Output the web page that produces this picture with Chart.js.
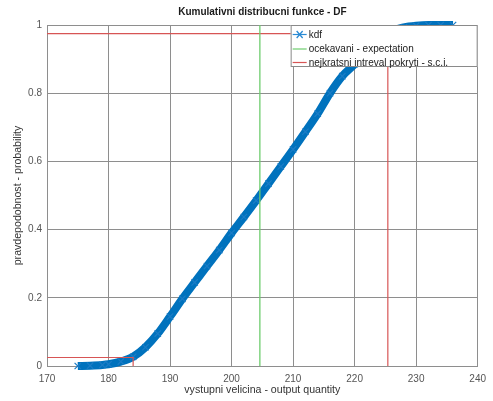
<!DOCTYPE html>
<html>
<head>
<meta charset="utf-8">
<script src="https://cdn.jsdelivr.net/npm/chart.js@4/dist/chart.umd.min.js"></script>
<style>
html,body{margin:0;padding:0;background:#fff;}
#wrap{width:493px;height:401px;}
</style>
</head>
<body>
<div id="wrap"><canvas id="c" width="493" height="401"></canvas></div>
<script>
// ---- data ----
const cdfX = [175, 177, 179, 180, 182, 184, 186, 188, 190, 192, 194, 196, 198, 200, 202, 204, 206, 208, 210, 212, 214, 216, 218, 220, 222, 224, 225.4, 226, 228, 230, 232, 234, 236];
const cdfY = [0, 0.001, 0.003, 0.005, 0.013, 0.027, 0.055, 0.095, 0.145, 0.197, 0.245, 0.293, 0.34, 0.39, 0.437, 0.485, 0.535, 0.585, 0.635, 0.687, 0.74, 0.80, 0.85, 0.885, 0.925, 0.958, 0.975, 0.982, 0.993, 0.998, 1.0, 1.0, 1.0];
const expectation = 204.6;
const sciBounds = [184, 225.4];
const sciProbs = [0.025, 0.975];
const xTicks = [170, 180, 190, 200, 210, 220, 230, 240];
const yTicks = [0, 0.2, 0.4, 0.6, 0.8, 1];
const seriesLabels = ['kdf', 'ocekavani - expectation', 'nejkratsni intreval pokryti - s.c.i.'];
const titleText = 'Kumulativni distribucni funkce - DF';
const xTitle = 'vystupni velicina - output quantity';
const yTitle = 'pravdepodobnost - probability';

const BLUE = '#0072BD', GREEN = 'rgb(110,205,110)', RED = 'rgb(215,85,85)';
const GRID = '#8e8e8e';
const FONT = '"Liberation Sans", Arial, Helvetica, sans-serif';

const kdfData = cdfX.map((x, i) => ({x: x, y: cdfY[i]}));
const expData = [{x: expectation, y: 0}, {x: expectation, y: 1}];
const sciData = [
  {x: xTicks[0], y: sciProbs[1]}, {x: sciBounds[1], y: sciProbs[1]}, {x: sciBounds[1], y: 0},
  {x: sciBounds[1], y: null},
  {x: xTicks[0], y: sciProbs[0]}, {x: sciBounds[0], y: sciProbs[0]}, {x: sciBounds[0], y: 0}
];

const insideLegend = {
  id: 'insideLegend',
  afterDatasetsDraw(chart) {
    const ctx = chart.ctx, a = chart.chartArea;
    const w = 187, h = 42;
    const x0 = a.right - w, y0 = a.top;
    ctx.save();
    ctx.fillStyle = '#fff';
    ctx.fillRect(x0, y0, w, h);
    ctx.strokeStyle = '#8a8a8a';
    ctx.lineWidth = 1;
    ctx.strokeRect(x0 + 0.5, y0 + 0.5, w - 1, h - 1);
    ctx.font = '10px ' + FONT;
    ctx.textBaseline = 'middle';
    ctx.textAlign = 'left';
    const rows = [9.5, 24, 37.5];
    chart.data.datasets.forEach((ds, i) => {
      const yy = y0 + rows[i];
      ctx.strokeStyle = ds.legendColor;
      ctx.lineWidth = 1.2;
      ctx.beginPath();
      ctx.moveTo(x0 + 2, yy);
      ctx.lineTo(x0 + 16, yy);
      ctx.stroke();
      if (i === 0) {
        ctx.lineWidth = 1.3;
        ctx.beginPath();
        ctx.moveTo(x0 + 6, yy - 3.5); ctx.lineTo(x0 + 12, yy + 3.5);
        ctx.moveTo(x0 + 6, yy + 3.5); ctx.lineTo(x0 + 12, yy - 3.5);
        ctx.stroke();
      }
      ctx.fillStyle = '#222';
      ctx.fillText(ds.label, x0 + 18, yy + 0.5);
    });
    ctx.restore();
  }
};

new Chart(document.getElementById('c'), {
  type: 'line',
  data: {
    datasets: [
      {
        label: seriesLabels[0], data: kdfData, order: 2, clip: false,
        borderColor: BLUE, borderWidth: 8, legendColor: '#2a8ad4',
        cubicInterpolationMode: 'monotone',
        pointStyle: 'crossRot', pointRadius: 4.5, pointBorderWidth: 1.2,
        pointBorderColor: '#1b7cc6', pointBackgroundColor: BLUE
      },
      {
        label: seriesLabels[1], data: expData, order: 1,
        borderColor: GREEN, borderWidth: 1.3, legendColor: GREEN, pointRadius: 0
      },
      {
        label: seriesLabels[2], data: sciData, order: 1,
        borderColor: RED, borderWidth: 1.2, legendColor: RED, pointRadius: 0, spanGaps: false
      }
    ]
  },
  options: {
    responsive: false,
    animation: false,
    layout: {padding: {left: 0, right: 13, top: 0, bottom: 0}},
    plugins: {
      legend: {display: false},
      tooltip: {enabled: false},
      title: {
        display: true, text: titleText, color: '#1a1a1a', fullSize: false,
        font: {family: FONT, size: 10, weight: 'bold'},
        padding: {top: 6, bottom: 7}
      }
    },
    scales: {
      x: {
        type: 'linear', min: xTicks[0], max: xTicks[xTicks.length - 1],
        afterBuildTicks: s => { s.ticks = xTicks.map(v => ({value: v})); },
        afterFit: s => { s.height = 35; },
        ticks: {color: '#555', font: {family: FONT, size: 10}, padding: 7, maxRotation: 0,
                callback: v => String(v)},
        grid: {color: GRID, drawTicks: false, lineWidth: 1},
        border: {display: true, color: GRID},
        title: {display: true, text: xTitle, color: '#333', font: {family: FONT, size: 10.6}, padding: {top: 0, bottom: 4.6}}
      },
      y: {
        type: 'linear', min: 0, max: 1,
        afterBuildTicks: s => { s.ticks = yTicks.map(v => ({value: v})); },
        afterFit: s => { s.width = 47; },
        ticks: {color: '#555', font: {family: FONT, size: 10}, padding: 5,
                callback: v => String(Number(v.toFixed(1)))},
        grid: {color: GRID, drawTicks: false, lineWidth: 1},
        border: {display: true, color: GRID},
        title: {display: true, text: yTitle, color: '#333', font: {family: FONT, size: 10.6}, padding: {top: 11.5, bottom: 0}}
      }
    }
  },
  plugins: [insideLegend]
});
</script>
</body>
</html>
